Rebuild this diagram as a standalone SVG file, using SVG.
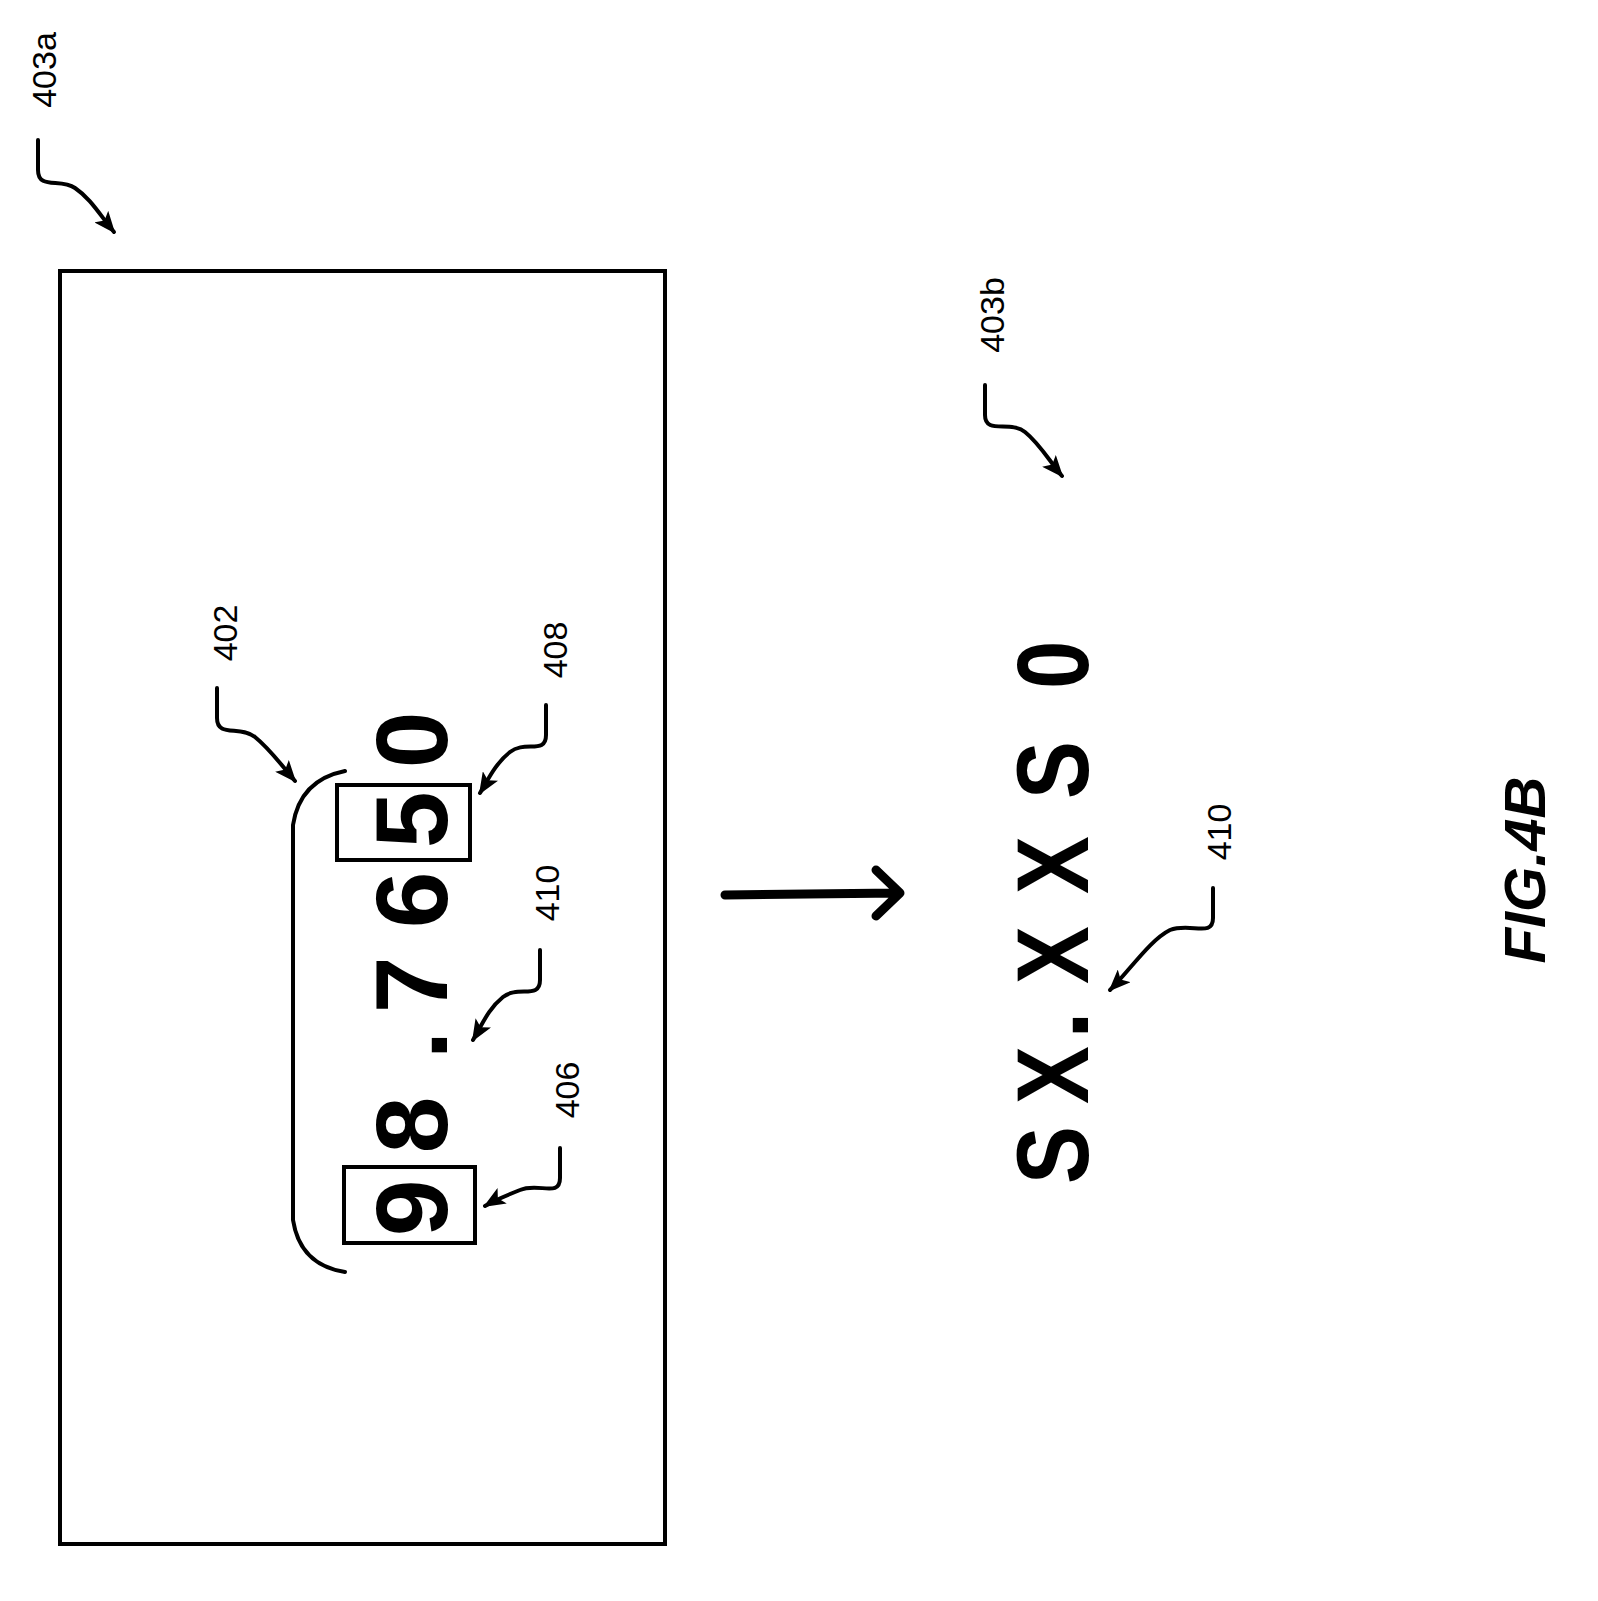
<svg xmlns="http://www.w3.org/2000/svg" width="1598" height="1601" viewBox="0 0 1598 1601">
<style>
.big{font-family:"Liberation Sans",Arial,sans-serif;font-weight:bold;font-size:102px;text-anchor:middle}
.lbl{font-family:"Liberation Sans",Arial,sans-serif;font-size:34px;text-anchor:middle}
.ln{fill:none;stroke:#000;stroke-width:4;stroke-linecap:round}
</style>
<defs><marker id="ah" viewBox="0 0 22 18" refX="20" refY="9" markerWidth="22" markerHeight="18" orient="auto" markerUnits="userSpaceOnUse"><path d="M0,0 L22,9 L0,18 L5,9 Z" fill="#000"/></marker></defs>
<rect width="1598" height="1601" fill="#fff"/>
<g id="screen"><rect x="60" y="271" width="605" height="1273" fill="none" stroke="#000" stroke-width="4"/></g>
<g id="number">
<text class="big" transform="translate(447,1208) rotate(-90)">9</text>
<text class="big" transform="translate(447,1125) rotate(-90)">8</text>
<text class="big" transform="translate(447,1045) rotate(-90)">.</text>
<text class="big" transform="translate(447,985) rotate(-90)">7</text>
<text class="big" transform="translate(447,900) rotate(-90)">6</text>
<text class="big" transform="translate(447,820) rotate(-90)">5</text>
<text class="big" transform="translate(447,740) rotate(-90)">0</text>
<rect x="344" y="1167" width="131" height="76" fill="none" stroke="#000" stroke-width="4"/>
<rect x="337" y="785" width="133" height="75" fill="none" stroke="#000" stroke-width="4"/>
<path class="ln" d="M345,771 Q300,780 293,825 L293,1220 Q300,1265 345,1272"/>
</g>
<g id="masked">
<text class="big" transform="translate(1088,1155) rotate(-90) scale(0.85,1)">S</text>
<text class="big" transform="translate(1088,1075) rotate(-90) scale(0.85,1)">X</text>
<text class="big" transform="translate(1088,1025) rotate(-90)">.</text>
<text class="big" transform="translate(1088,955) rotate(-90) scale(0.85,1)">X</text>
<text class="big" transform="translate(1088,865) rotate(-90) scale(0.85,1)">X</text>
<text class="big" transform="translate(1088,770) rotate(-90) scale(0.85,1)">S</text>
<text class="big" transform="translate(1088,665) rotate(-90) scale(0.85,1)">0</text>
</g>
<g id="labels">
<text class="lbl" transform="translate(56,70) rotate(-90)">403a</text>
<text class="lbl" transform="translate(1004,315) rotate(-90)">403b</text>
<text class="lbl" transform="translate(237,633) rotate(-90)">402</text>
<text class="lbl" transform="translate(567,650) rotate(-90)">408</text>
<text class="lbl" transform="translate(559,893) rotate(-90)">410</text>
<text class="lbl" transform="translate(579,1090) rotate(-90)">406</text>
<text class="lbl" transform="translate(1231,832) rotate(-90)">410</text>
<text transform="translate(1545,870) rotate(-90)" style="font-family:'Liberation Sans',Arial,sans-serif;font-weight:bold;font-style:italic;font-size:58px;text-anchor:middle">FIG.4B</text>
</g>
<g id="connectors">
<path class="ln" marker-end="url(#ah)" d="M38,140 L38,170 C38,190 60,178 75,188 C90,198 100,215 114,232"/>
<path class="ln" marker-end="url(#ah)" d="M985,385 L985,415 C985,435 1010,420 1025,432 C1040,444 1050,462 1062,476"/>
<path class="ln" marker-end="url(#ah)" d="M217,688 L217,718 C217,738 240,725 255,737 C270,749 283,767 295,781"/>
<path class="ln" marker-end="url(#ah)" d="M546,705 L546,735 C546,755 525,740 510,752 C495,764 488,780 480,793"/>
<path class="ln" marker-end="url(#ah)" d="M540,950 L540,980 C540,1000 518,985 503,997 C488,1009 482,1025 473,1040"/>
<path class="ln" marker-end="url(#ah)" d="M560,1148 L560,1178 C560,1198 538,1182 520,1190 C505,1196 495,1200 485,1206"/>
<path class="ln" marker-end="url(#ah)" d="M1213,888 L1213,918 C1213,938 1190,922 1170,930 C1150,940 1130,970 1110,990"/>
<path d="M725,895 L898,893 M876,870 L900,893 L876,916" fill="none" stroke="#000" stroke-width="9" stroke-linecap="round" stroke-linejoin="round"/>
</g>
</svg>
